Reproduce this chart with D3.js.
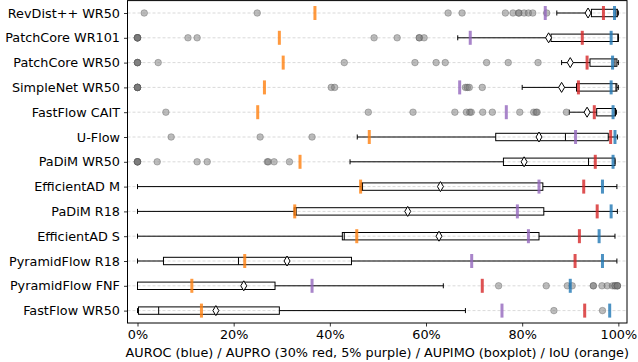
<!DOCTYPE html>
<html lang="en">
<head>
<meta charset="UTF-8">
<title>AUPIMO boxplots</title>
<script src="https://d3js.org/d3.v7.min.js"></script>
<style>
  body { margin: 0; background: #fff; }
  text { font-family: "DejaVu Sans", sans-serif; }
</style>
</head>
<body>
<script>
// model names, top to bottom
var models = ["RevDist++ WR50", "PatchCore WR101", "PatchCore WR50", "SimpleNet WR50", "FastFlow CAIT",
              "U-Flow", "PaDiM WR50", "EfficientAD M", "PaDiM R18", "EfficientAD S",
              "PyramidFlow R18", "PyramidFlow FNF", "FastFlow WR50"];

// single-value metrics (%)
var auroc   = [99.2, 98.5, 98.8, 98.5, 98.9, 99.3, 98.9, 96.7, 98.5, 96.0, 96.7, 90.0, 98.2];
var aupro30 = [96.9, 92.5, 93.5, 91.7, 95.0, 98.4, 95.2, 92.8, 95.6, 91.9, 91.0, 71.7, 93.0];
var aupro05 = [84.8, 69.2, null, 67.0, 76.7, 91.1, null, 83.5, 79.0, 81.3, 69.5, 36.3, 75.8];
var iou     = [36.9, 29.5, 30.3, 26.4, 25.0, 48.2, 33.8, 46.4, 32.7, 45.6, 22.3, 11.3, 13.3];

// AUPIMO boxplot stats (%)
var whiskLo = [87.2, 66.6, 88.2, 80.0, 89.8, 45.7, 44.2, 0, 0, 0, 0, 0, 0];
var q1      = [94.4, 86.0, 94.1, 91.3, 95.5, 74.5, 76.1, 46.5, 32.6, 42.6, 5.4, 0, 0.2];
var median  = [99.5, 99.9, 99.3, 99.5, 99.3, 89.0, 93.8, 46.8, 33.0, 43.0, 21.0, 0, 4.4];
var q3      = [99.8, 100, 99.7, 99.7, 99.4, 97.9, 99.3, 84.3, 84.5, 83.5, 44.5, 28.6, 29.5];
var whiskHi = [100, 100, 100, 100, 99.6, 99.8, 99.3, 99.7, 99.8, 99.3, 99.7, 63.6, 68.2];
var means   = [93.7, 85.5, 90.0, 88.2, 93.5, 83.5, 80.4, 63.0, 56.2, 62.7, 31.1, 22.1, 16.3];
var fliers  = [
  [1.4, 24.9, 64.6, 67.5, 76.5, 78.1, 79.3, 79.3, 80.4, 81.3, 82.2, 85.1],
  [0, 0, 0, 0, 0, 0, 10.5, 12.4, 49.2, 54.0, 58.6, 58.6, 59.6],
  [0, 0, 0, 0, 4.3, 43.0, 57.7, 62.1, 64.0, 72.6, 77.1, 83.3],
  [0, 0, 0, 0, 0, 0, 40.3, 41.0, 68.2, 68.6, 69.0, 71.7],
  [5.9, 48.0, 57.3, 66.0, 68.4, 69.1, 69.4, 71.8, 73.8, 79.5, 82.4, 82.9, 83.1, 89.2],
  [7.0, 25.5, 36.3],
  [0, 0, 0, 0, 0, 4.1, 12.4, 14.5, 27.0, 27.2, 28.4, 31.6],
  [], [], [], [],
  [75.1, 85.0, 89.4, 90.4, 94.8, 94.8, 96.6, 97.7, 98.8, 99.3, 99.3, 99.8, 99.8, 99.8],
  [86.6, 96.7]
];
var xTicks = [0, 20, 40, 60, 80, 100];

var w = 638, h = 362;
var pLeft = 127.5, pRight = 627, pTop = 0.6, pBottom = 323;

var svg = d3.select("body").append("svg")
    .attr("width", w).attr("height", h);

var x = d3.scaleLinear().domain([-2.08, 101.8]).range([pLeft, pRight]);
var y = d3.scalePoint().domain(models).range([pTop, pBottom]).padding(0.5);

// grid
svg.append("g").selectAll("line").data(models).join("line")
    .attr("x1", pLeft).attr("x2", pRight)
    .attr("y1", d => y(d)).attr("y2", d => y(d))
    .attr("stroke", "#cfcfcf").attr("stroke-width", 0.8)
    .attr("stroke-dasharray", "3,2");

var rows = models.map((m, i) => ({
  m: m, lo: whiskLo[i], q1: q1[i], med: median[i], q3: q3[i], hi: whiskHi[i],
  mean: means[i], fl: fliers[i]
}));

var bh = 3.7, ch = 2.5;
var box = svg.append("g").attr("stroke", "#000").attr("stroke-width", 1).attr("fill", "none");
rows.forEach(function(r) {
  var cy = y(r.m);
  box.append("line").attr("x1", x(r.lo)).attr("x2", x(r.q1)).attr("y1", cy).attr("y2", cy);
  box.append("line").attr("x1", x(r.q3)).attr("x2", x(r.hi)).attr("y1", cy).attr("y2", cy);
  box.append("line").attr("x1", x(r.lo)).attr("x2", x(r.lo)).attr("y1", cy - ch).attr("y2", cy + ch);
  box.append("line").attr("x1", x(r.hi)).attr("x2", x(r.hi)).attr("y1", cy - ch).attr("y2", cy + ch);
  box.append("rect").attr("x", x(r.q1)).attr("y", cy - bh)
     .attr("width", Math.max(0, x(r.q3) - x(r.q1))).attr("height", 2 * bh);
  box.append("line").attr("x1", x(r.med)).attr("x2", x(r.med)).attr("y1", cy - bh).attr("y2", cy + bh);
});

// outliers
var fl = [];
rows.forEach(r => r.fl.forEach(v => fl.push({m: r.m, v: v})));
svg.append("g").selectAll("circle").data(fl).join("circle")
    .attr("cx", d => x(d.v)).attr("cy", d => y(d.m)).attr("r", 3.3)
    .attr("fill", "#7a7a7a").attr("fill-opacity", 0.5)
    .attr("stroke", "#555").attr("stroke-opacity", 0.45).attr("stroke-width", 0.8);

// metric ticks
var metrics = [
  {vals: iou, color: "#ff7f0e"},
  {vals: aupro05, color: "#9467bd"},
  {vals: aupro30, color: "#d62728"},
  {vals: auroc, color: "#1f77b4"}
];
metrics.forEach(function(mt) {
  var pts = models.map((m, i) => ({m: m, v: mt.vals[i]})).filter(d => d.v != null);
  svg.append("g").selectAll("rect").data(pts).join("rect")
      .attr("x", d => x(d.v) - 1.5).attr("y", d => y(d.m) - 7)
      .attr("width", 3).attr("height", 14)
      .attr("fill", mt.color).attr("fill-opacity", 0.8);
});

// mean diamonds
svg.append("g").selectAll("path").data(rows).join("path")
    .attr("d", "M0,-5L3,0L0,5L-3,0Z")
    .attr("transform", d => "translate(" + x(d.mean) + "," + y(d.m) + ")")
    .attr("fill", "#fff").attr("stroke", "#000").attr("stroke-width", 1);

// axes
var xAxis = svg.append("g").attr("transform", "translate(0," + pBottom + ")")
    .call(d3.axisBottom(x).tickValues(xTicks).tickFormat(d => d + "%").tickSize(3.5).tickPadding(3));
var yAxis = svg.append("g").attr("transform", "translate(" + pLeft + ",0)")
    .call(d3.axisLeft(y).tickSize(3.5).tickPadding(4));
[xAxis, yAxis].forEach(function(a) {
  a.select(".domain").remove();
  a.selectAll("text").attr("font-size", "12.8px").attr("fill", "#000")
   .attr("font-family", "DejaVu Sans, sans-serif");
  a.selectAll("line").attr("stroke", "#000").attr("stroke-width", 0.8);
});

svg.append("rect").attr("x", pLeft).attr("y", pTop)
    .attr("width", pRight - pLeft).attr("height", pBottom - pTop)
    .attr("fill", "none").attr("stroke", "#000").attr("stroke-width", 1);

svg.append("text").attr("x", (pLeft + pRight) / 2).attr("y", 357)
    .attr("text-anchor", "middle").attr("font-size", "12.8px")
    .text("AUROC (blue) / AUPRO (30% red, 5% purple) / AUPIMO (boxplot) / IoU (orange)");
</script>
</body>
</html>
